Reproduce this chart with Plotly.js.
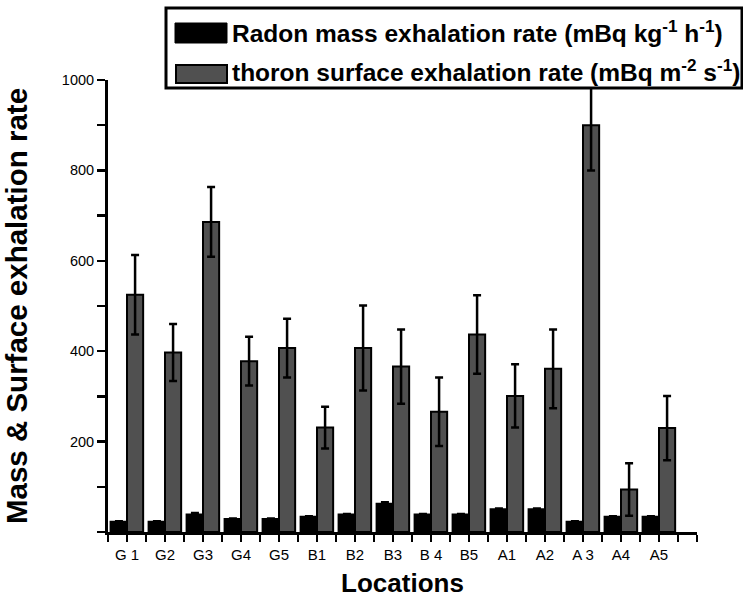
<!DOCTYPE html>
<html>
<head>
<meta charset="utf-8">
<script src="https://cdn.plot.ly/plotly-3.0.1.min.js"></script>
<style>html,body{margin:0;padding:0;background:#fff}#chart{width:743px;height:602px}</style>
</head>
<body>
<div id="chart"></div>
<script>
// ---- data ----
const locations = ["G 1","G2","G3","G4","G5","B1","B2","B3","B 4","B5","A1","A2","A 3","A4","A5"];
const radonMass = [22, 22, 38, 28, 28, 33, 38, 62, 38, 38, 50, 50, 22, 33, 33];
const radonErr  = [2, 2, 4, 2, 2, 2, 2, 4, 2, 2, 2, 2, 2, 2, 2];
const thoronSurface = [525, 397, 686, 378, 407, 231, 407, 366, 266, 437, 301, 361, 900, 94, 230];
const thoronErr     = [88, 63, 77, 54, 65, 46, 94, 82, 76, 87, 70, 87, 100, 58, 71];
const seriesNames = [
  "Radon mass exhalation rate (mBq kg<sup>-1</sup> h<sup>-1</sup>)",
  "thoron surface exhalation rate (mBq m<sup>-2</sup> s<sup>-1</sup>)"
];
const yTickVals = [200, 400, 600, 800, 1000];

// ---- build ----
const FONT = "'Liberation Sans', Arial, Helvetica, sans-serif";
const idx = locations.map((_, i) => i);
const xMinorVals = [];
for (let i = -1; i <= 2 * locations.length; i += 2) xMinorVals.push(i / 2);
xMinorVals.push(locations.length);

const traces = [
  {
    type: "bar", x: idx, y: radonMass, name: seriesNames[0], offsetgroup: "a",
    marker: {color: "#000000", line: {color: "#000000", width: 2.5}},
    error_y: {type: "data", array: radonErr, visible: true, color: "#000", thickness: 2.5, width: 4},
    showlegend: false
  },
  {
    type: "bar", x: idx, y: thoronSurface, name: seriesNames[1], offsetgroup: "b",
    marker: {color: "#505050", line: {color: "#000000", width: 2}},
    error_y: {type: "data", array: thoronErr, visible: true, color: "#000", thickness: 2.5, width: 4},
    showlegend: false
  }
];

const W = 743, H = 602, L = 108, R = 46, T = 80, B = 70;
const pw = W - L - R, ph = H - T - B;
const px = x => (x - L) / pw;
const py = y => (H - B - y) / ph;

const shapes = [
  {type: "rect", xref: "paper", yref: "paper", layer: "above",
   x0: px(166), x1: px(742), y0: py(88), y1: py(8),
   fillcolor: "#ffffff", line: {color: "#000", width: 3}},
  {type: "rect", xref: "paper", yref: "paper", layer: "above",
   x0: px(175), x1: px(227), y0: py(43), y1: py(23),
   fillcolor: "#000000", line: {color: "#000", width: 1}},
  {type: "rect", xref: "paper", yref: "paper", layer: "above",
   x0: px(176), x1: px(227), y0: py(83), y1: py(65),
   fillcolor: "#505050", line: {color: "#000", width: 2}}
];
const annotations = [
  {xref: "paper", yref: "paper", x: px(230), y: py(31), xanchor: "left", yanchor: "middle",
   text: "<b>" + seriesNames[0] + "</b>", showarrow: false,
   font: {family: FONT, size: 24.5, color: "#000"}},
  {xref: "paper", yref: "paper", x: px(230), y: py(70), xanchor: "left", yanchor: "middle",
   text: "<b>" + seriesNames[1] + "</b>", showarrow: false,
   font: {family: FONT, size: 24.5, color: "#000"}}
];

const layout = {
  width: W, height: H,
  margin: {l: L, r: R, t: T, b: B, pad: 0},
  paper_bgcolor: "#fff", plot_bgcolor: "#fff",
  font: {family: FONT, color: "#000"},
  barmode: "group", bargap: 0.15, bargroupgap: 0,
  showlegend: false,
  xaxis: {
    range: [-0.5, 15], tickmode: "array", tickvals: idx, ticktext: locations,
    ticks: "outside", ticklen: 7, tickwidth: 2.5, tickcolor: "#000",
    minor: {tickmode: "array", tickvals: xMinorVals, ticks: "outside", ticklen: 7, tickwidth: 2.5, tickcolor: "#000"},
    showline: true, linewidth: 3, linecolor: "#000", showgrid: false, zeroline: false,
    tickfont: {family: FONT, size: 15, color: "#000"},
    title: {text: "<b>Locations</b>", font: {family: FONT, size: 26, color: "#000"}, standoff: 12}
  },
  yaxis: {
    range: [0, 1000], tickvals: yTickVals,
    ticks: "outside", ticklen: 8, tickwidth: 2.5, tickcolor: "#000",
    minor: {dtick: 100, tick0: 0, ticks: "outside", ticklen: 8, tickwidth: 2.5, tickcolor: "#000"},
    showline: true, linewidth: 3, linecolor: "#000", showgrid: false, zeroline: false,
    tickfont: {family: FONT, size: 14.5, color: "#000"},
    title: {text: "<b>Mass & Surface exhalation rate</b>", font: {family: FONT, size: 29.5, color: "#000"}, standoff: 27}
  },
  shapes: shapes,
  annotations: annotations
};

Plotly.newPlot("chart", traces, layout, {displayModeBar: false, staticPlot: true});
</script>
</body>
</html>
